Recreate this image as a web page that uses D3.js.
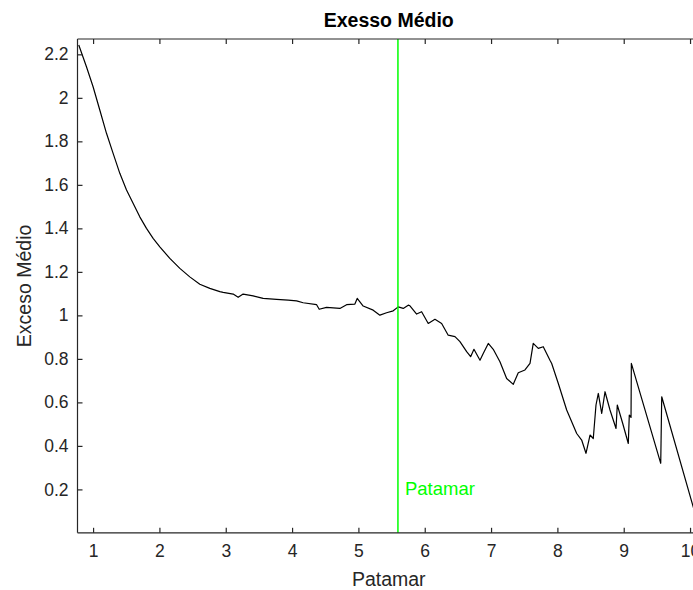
<!DOCTYPE html>
<html>
<head>
<meta charset="utf-8">
<script src="https://cdn.jsdelivr.net/npm/d3@7"></script>
<style>
  html, body { margin: 0; padding: 0; background: #fff; overflow: hidden; }
  svg { display: block; }
  text { font-family: "Liberation Sans", Arial, Helvetica, sans-serif; }
</style>
</head>
<body>
<svg id="chart" width="693" height="590"></svg>
<script>
// Mean excess function sampled over thresholds
const thresholds = [
  0.784, 0.900, 1.000, 1.101, 1.202, 1.302, 1.403, 1.504, 1.603, 1.704, 1.805, 1.905,
  2.006, 2.157, 2.308, 2.458, 2.609, 2.760, 2.911, 2.961, 3.112, 3.187, 3.262, 3.413,
  3.564, 3.766, 3.941, 4.068, 4.167, 4.370, 4.409, 4.520, 4.721, 4.822, 4.947, 4.982,
  5.072, 5.223, 5.324, 5.425, 5.525, 5.600, 5.676, 5.751, 5.777, 5.878, 5.953, 6.053,
  6.154, 6.255, 6.354, 6.456, 6.531, 6.632, 6.692, 6.742, 6.833, 6.882, 6.958, 7.033,
  7.134, 7.235, 7.335, 7.410, 7.511, 7.587, 7.636, 7.712, 7.787, 7.888, 7.914, 8.014,
  8.140, 8.291, 8.366, 8.431, 8.492, 8.541, 8.582, 8.617, 8.668, 8.718, 8.793, 8.884,
  8.903, 8.985, 9.069, 9.084, 9.110, 9.115, 9.558, 9.573, 10.026, 10.143
];
const meanExcess = [
  2.243, 2.143, 2.051, 1.944, 1.837, 1.745, 1.653, 1.576, 1.515, 1.453, 1.400, 1.354,
  1.315, 1.262, 1.216, 1.177, 1.143, 1.124, 1.109, 1.106, 1.098, 1.083, 1.098, 1.090,
  1.078, 1.074, 1.070, 1.067, 1.058, 1.049, 1.028, 1.037, 1.032, 1.049, 1.052, 1.078,
  1.043, 1.024, 1.001, 1.012, 1.021, 1.039, 1.032, 1.047, 1.044, 1.006, 1.017, 0.963,
  0.982, 0.963, 0.909, 0.902, 0.879, 0.833, 0.810, 0.844, 0.794, 0.825, 0.871, 0.844,
  0.787, 0.710, 0.683, 0.736, 0.749, 0.779, 0.871, 0.848, 0.856, 0.794, 0.779, 0.687,
  0.565, 0.457, 0.427, 0.366, 0.450, 0.434, 0.588, 0.641, 0.549, 0.649, 0.565, 0.480,
  0.588, 0.503, 0.411, 0.542, 0.531, 0.779, 0.320, 0.626, 0.143, 0.017
];
const xTicks = [1, 2, 3, 4, 5, 6, 7, 8, 9, 10];
const yTicks = [0.2, 0.4, 0.6, 0.8, 1, 1.2, 1.4, 1.6, 1.8, 2, 2.2];
const threshold = 5.596;
const titleText = "Exesso Médio";
const xLabel = "Patamar";
const yLabel = "Exceso Médio";
const markerLabel = "Patamar";

const svg = d3.select("#chart");
const plotL = 77.5, plotT = 39, plotR = 700, plotB = 532.8;
const axisColor = "#262626";

const x = d3.scaleLinear().domain([0.765, 10.15]).range([plotL, plotR]);
const y = d3.scaleLinear().domain([0.0005, 2.2705]).range([plotB, plotT]);

svg.append("defs").append("clipPath").attr("id", "plotArea")
  .append("rect").attr("x", plotL).attr("y", plotT)
  .attr("width", plotR - plotL).attr("height", plotB - plotT);

// Data line
const pts = thresholds.map((t, i) => [t, meanExcess[i]]);
svg.append("path")
  .datum(pts)
  .attr("clip-path", "url(#plotArea)")
  .attr("fill", "none")
  .attr("stroke", "#000")
  .attr("stroke-width", 1.2)
  .attr("stroke-linejoin", "round")
  .attr("d", d3.line().x(d => x(d[0])).y(d => y(d[1])));

// Threshold marker
svg.append("line")
  .attr("x1", x(threshold)).attr("x2", x(threshold))
  .attr("y1", plotT).attr("y2", plotB)
  .attr("stroke", "#00ff00").attr("stroke-width", 1.5);
svg.append("text")
  .attr("x", x(threshold) + 7).attr("y", 495)
  .attr("fill", "#00ff00").attr("font-size", 18.5)
  .text(markerLabel);

// Axes with inward ticks, mirrored on top and right
const tickLen = 5;
const fmt = d => String(d);
const gBottom = svg.append("g").attr("transform", `translate(0,${plotB})`)
  .call(d3.axisBottom(x).tickValues(xTicks).tickSize(-tickLen).tickPadding(12).tickFormat(fmt));
const gTop = svg.append("g").attr("transform", `translate(0,${plotT})`)
  .call(d3.axisTop(x).tickValues(xTicks).tickSize(-tickLen).tickFormat(""));
const gLeft = svg.append("g").attr("transform", `translate(${plotL},0)`)
  .call(d3.axisLeft(y).tickValues(yTicks).tickSize(-tickLen).tickPadding(9).tickFormat(fmt));
const gRight = svg.append("g").attr("transform", `translate(${plotR},0)`)
  .call(d3.axisRight(y).tickValues(yTicks).tickSize(-tickLen).tickFormat(""));

[gBottom, gTop, gLeft, gRight].forEach(g => {
  g.select(".domain").attr("stroke", axisColor).attr("stroke-width", 1.2);
  g.selectAll(".tick line").attr("stroke", axisColor).attr("stroke-width", 1.2);
  g.selectAll(".tick text").attr("fill", axisColor).attr("font-size", 17.5)
    .attr("font-family", '"Liberation Sans", Arial, sans-serif');
});
// plain frame edges without d3's end caps
[gBottom, gTop].forEach(g => g.select(".domain").attr("d", `M${plotL},0H${plotR}`));
[gLeft, gRight].forEach(g => g.select(".domain").attr("d", `M0,${plotT}V${plotB}`));

// Title and axis labels
svg.append("text")
  .attr("x", (plotL + plotR) / 2).attr("y", 27)
  .attr("text-anchor", "middle").attr("font-weight", "bold")
  .attr("font-size", 19.5).attr("fill", "#000")
  .text(titleText);
svg.append("text")
  .attr("x", (plotL + plotR) / 2).attr("y", 586)
  .attr("text-anchor", "middle")
  .attr("font-size", 19.5).attr("fill", axisColor)
  .text(xLabel);
svg.append("text")
  .attr("transform", `translate(31,${(plotT + plotB) / 2}) rotate(-90)`)
  .attr("text-anchor", "middle")
  .attr("font-size", 19.5).attr("fill", axisColor)
  .text(yLabel);
</script>
</body>
</html>
